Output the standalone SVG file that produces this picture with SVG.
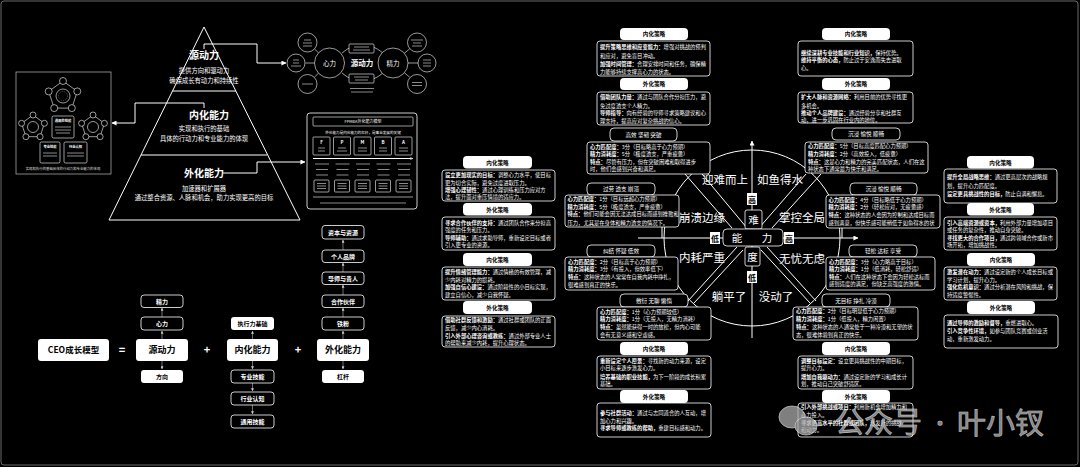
<svg xmlns="http://www.w3.org/2000/svg" width="1080" height="467" viewBox="0 0 1080 467">
<defs>
<style>
text{font-family:'Noto Sans CJK SC','Noto Sans',sans-serif}
.c{fill:#fff;font-size:5.3px}
.b{font-weight:700}
.tab{fill:#fff}
.tt{fill:#000;font-size:5.6px;font-weight:700;text-anchor:middle}
.st{fill:#000;stroke:#fff;stroke-width:.8}
.stt{fill:#fff;font-size:5.6px;text-anchor:middle}
.box{fill:#000;stroke:#fff;stroke-width:.8}
.ln{fill:none;stroke:#fff;stroke-width:1}
.thin{fill:#000;stroke:#fff;stroke-width:.6}
.tx{fill:none;stroke:#9a9a9a;stroke-width:.9}
.wb{fill:#fff}
.ob{fill:#000;stroke:#fff;stroke-width:.8}
.wt{fill:#000;font-weight:700;text-anchor:middle}
.ot{fill:#fff;font-weight:700;text-anchor:middle}
.py{fill:#fff;text-anchor:middle}
.lab{fill:#fff;font-size:11.5px;text-anchor:middle}
.gl{fill:none;stroke:#bbb;stroke-width:.6}
</style>
<marker id="ah" viewBox="0 0 6 6" refX="5.5" refY="3" markerWidth="5" markerHeight="5" markerUnits="userSpaceOnUse" orient="auto"><path d="M0,0L6,3L0,6z" fill="#fff"/></marker>
<marker id="sa" viewBox="0 0 6 6" refX="5.5" refY="3" markerWidth="3" markerHeight="3" markerUnits="userSpaceOnUse" orient="auto"><path d="M0,0L6,3L0,6z" fill="#ccc"/></marker>
</defs>
<rect width="1080" height="467" fill="#000"/>
<rect x="1" y="1" width="1077" height="464" rx="3" fill="none" stroke="#6a6a6a"/>

<!-- connectors -->
<g id="connectors">
<path class="ln" d="M204,49V44H257V63H286" marker-end="url(#ah)"/>
<path class="ln" d="M204,108V103H135V123H112" marker-end="url(#ah)"/>
<path class="ln" d="M223,173H257V162H305" marker-end="url(#ah)"/>
<path class="gl" d="M162,339V331" marker-end="url(#sa)"/>
<path class="gl" d="M162,317V308" marker-end="url(#sa)"/>
<path class="gl" d="M162,361V369" marker-end="url(#sa)"/>
<path class="gl" d="M252.5,339V331" marker-end="url(#sa)"/>
<path class="gl" d="M252.5,361V369" marker-end="url(#sa)"/>
<path class="gl" d="M252.5,383V391" marker-end="url(#sa)"/>
<path class="gl" d="M252.5,405V414" marker-end="url(#sa)"/>
<path class="gl" d="M343,339V331" marker-end="url(#sa)"/>
<path class="gl" d="M343,317V308" marker-end="url(#sa)"/>
<path class="gl" d="M343,295V285" marker-end="url(#sa)"/>
<path class="gl" d="M343,272V263" marker-end="url(#sa)"/>
<path class="gl" d="M343,250V240" marker-end="url(#sa)"/>
<path class="gl" d="M343,361V369" marker-end="url(#sa)"/>
<circle cx="752" cy="238" r="88" class="ln"/>
<path class="ln" d="M752,338V141" marker-end="url(#ah)"/>
<path class="ln" d="M638,238H858" marker-end="url(#ah)"/>
<path class="ln" d="M662,227V238M842,228V238"/>
<path class="ln" d="M685,174L732,228M702,174L747,228"/>
<path class="ln" d="M821,174L772,228M806,174L759,228"/>
<path class="ln" d="M737,247L688,301M743,250L694,303"/>
<path class="ln" d="M767,247L816,301M761,250L810,303"/>
</g>

<g id="pyramid">
<path class="ln" d="M204,27L109,220H300Z"/>
<path class="ln" d="M172.5,91H236M141,155H267"/>
<text class="py b" x="204" y="59" font-size="10">源动力</text>
<text class="py" x="204" y="72.5" font-size="6.3">提供方向和驱动力</text>
<text class="py" x="204" y="82.5" font-size="6.3">确保成长有动力和持续性</text>
<text class="py b" x="209" y="119" font-size="10">内化能力</text>
<text class="py" x="204" y="130.5" font-size="6.3">实现和执行的基础</text>
<text class="py" x="204" y="140.5" font-size="6.3">具体的行动力和专业能力的体现</text>
<text class="py b" x="204" y="177" font-size="10">外化能力</text>
<text class="py" x="204" y="190.5" font-size="6.3">加速器和扩展器</text>
<text class="py" x="204" y="200" font-size="6.3">通过整合资源、人脉和机会，助力实现更高的目标</text>
</g>

<g id="leftbox">
<rect x="16" y="72" width="95" height="102" fill="#000" stroke="#bbb" stroke-width=".7"/>
<path class="thin" d="M63,81L77.3,91.4L71.8,108.1L54.2,108.1L48.7,91.4Z"/>
<circle cx="63" cy="96" r="7" class="thin"/><circle cx="63" cy="96" r="4.5" fill="none" stroke="#999" stroke-width=".5" stroke-dasharray="1 1"/>
<circle cx="63" cy="81" r="3.5" class="thin"/><circle cx="77.3" cy="91.4" r="3.5" class="thin"/><circle cx="71.8" cy="108.1" r="3.5" class="thin"/><circle cx="54.2" cy="108.1" r="3.5" class="thin"/><circle cx="48.7" cy="91.4" r="3.5" class="thin"/>
<path class="thin" d="M33,115L44.4,123.3L40.1,136.7L25.9,136.7L21.6,123.3Z"/>
<circle cx="33" cy="127" r="5.5" class="thin"/>
<circle cx="33" cy="115" r="3" class="thin"/><circle cx="44.4" cy="123.3" r="3" class="thin"/><circle cx="40.1" cy="136.7" r="3" class="thin"/><circle cx="25.9" cy="136.7" r="3" class="thin"/><circle cx="21.6" cy="123.3" r="3" class="thin"/>
<path class="thin" d="M93,115L104.4,123.3L100.1,136.7L85.9,136.7L81.6,123.3Z"/>
<circle cx="93" cy="127" r="5.5" class="thin"/>
<circle cx="93" cy="115" r="3" class="thin"/><circle cx="104.4" cy="123.3" r="3" class="thin"/><circle cx="100.1" cy="136.7" r="3" class="thin"/><circle cx="85.9" cy="136.7" r="3" class="thin"/><circle cx="81.6" cy="123.3" r="3" class="thin"/>
<rect x="52" y="116" width="22" height="22" rx="1.5" class="thin"/>
<text x="63" y="122" fill="#fff" font-size="3.3" font-weight="700" text-anchor="middle">通用的技能</text>
<path class="tx" d="M55,127H71M55,130H71M56,133H70" stroke-width=".6"/>
<rect x="40" y="142" width="20" height="21" rx="1.5" class="thin"/>
<text x="50" y="148" fill="#fff" font-size="3.3" font-weight="700" text-anchor="middle">专业技能</text>
<path class="tx" d="M43,153H57M43,156H57" stroke-width=".6"/>
<rect x="64" y="142" width="23" height="21" rx="1.5" class="thin"/>
<text x="75.5" y="148" fill="#fff" font-size="3.3" font-weight="700" text-anchor="middle">行业认知</text>
<path class="tx" d="M67,153H84M67,156H84" stroke-width=".6"/>
<text x="63" y="170" fill="#ddd" font-size="3.4" text-anchor="middle">实现和执行的基础具体的行动力和专业能力的体现</text>
</g>

<g id="yuan">
<path class="thin" d="M342,53Q362,36 383,53M342,73Q362,90 383,73" style="fill:none"/>
<path class="thin" style="fill:none" d="M305.5,63H314.5M314.5,49L318.5,52.8M314.5,77L318.5,73.2M418,63H408M409.8,48.7L404.4,53.3M409.8,77.3L404.4,72.7"/>
<circle cx="329.5" cy="63" r="15" class="thin"/>
<circle cx="393" cy="63" r="15" class="thin"/>
<circle cx="307.5" cy="42.5" r="9.5" class="thin"/>
<circle cx="296" cy="63" r="9" class="thin"/>
<circle cx="307.5" cy="84" r="9.5" class="thin"/>
<circle cx="417" cy="42.5" r="9.5" class="thin"/>
<circle cx="427" cy="63" r="9" class="thin"/>
<circle cx="417" cy="84" r="9.5" class="thin"/>
<path class="tx" stroke-width=".6" d="M304,40H311M303,43H312M303,46H312M293,60H299M293,63H299M291,66H301M302,84H313M411,40H423M413,43H421M412,46H422M423,60H431M423,63H431M423,66H431M412,82.5H422M412,85.5H422"/>
<text x="329.5" y="65.5" fill="#fff" font-size="6.5" text-anchor="middle">心力</text>
<text x="393" y="65.5" fill="#fff" font-size="6.5" text-anchor="middle">精力</text>
<text x="362" y="66" fill="#fff" font-size="7.5" font-weight="700" text-anchor="middle">源动力</text>
<rect x="349" y="44" width="25" height="9" rx="1" class="thin"/>
<rect x="349" y="74" width="25" height="9" rx="1" class="thin"/>
<path class="tx" stroke-width=".6" d="M354,47H369M353,50H370M354,77H369M355,80H368M350,88.5H374M351,92H373"/>
</g>

<g id="pmba">
<rect x="307" y="113" width="110" height="96" rx="3" class="box"/>
<rect x="313" y="117" width="100" height="9" rx="1" class="thin"/>
<text x="363" y="123" fill="#fff" font-size="4" text-anchor="middle">FPMBA外化能力模型</text>
<text x="363" y="133.5" fill="#fff" font-size="3.6" text-anchor="middle">外化能力是内化能力的杠杆，是事业发展的关键</text>
<rect x="313" y="137" width="17" height="18" rx="1" class="thin"/>
<rect x="333.5" y="137" width="17" height="18" rx="1" class="thin"/>
<rect x="354" y="137" width="17" height="18" rx="1" class="thin"/>
<rect x="374.5" y="137" width="17" height="18" rx="1" class="thin"/>
<rect x="395" y="137" width="17" height="18" rx="1" class="thin"/>
<text y="143.5" fill="#fff" font-size="4.5" font-weight="700" text-anchor="middle"><tspan x="321.5">F</tspan><tspan x="342">P</tspan><tspan x="362.5">M</tspan><tspan x="383">B</tspan><tspan x="403.5">A</tspan></text>
<path class="tx" stroke-width=".5" d="M318,148H325M318,151H325M338,148H346M337,151H347M358,148H367M358,151H367M379,148H387M379,151H387M399,148H408M399,151H408"/>
<path class="ln" stroke-width=".7" d="M313,158.5H413" marker-end="url(#sa)"/>
<path class="tx" stroke-width=".6" d="M315,164H329M316,169.5H328M316,175H328M335.5,164H349.5M336.5,169.5H348.5M336.5,175H348.5M356,164H370M357,169.5H369M357,175H369M376.5,164H390.5M377.5,169.5H389.5M377.5,175H389.5M397,164H411M398,169.5H410M398,175H410"/>
<rect x="314" y="180" width="15" height="12" rx="1" class="thin"/>
<rect x="334.5" y="180" width="15" height="12" rx="1" class="thin"/>
<rect x="355" y="180" width="15" height="12" rx="1" class="thin"/>
<rect x="375.5" y="180" width="15" height="12" rx="1" class="thin"/>
<rect x="396" y="180" width="15" height="12" rx="1" class="thin"/>
<path class="tx" stroke-width=".5" d="M317,183.5H326M317,186H326M317,188.5H326M337.5,183.5H346.5M337.5,186H346.5M337.5,188.5H346.5M358,183.5H367M358,186H367M358,188.5H367M378.5,183.5H387.5M378.5,186H387.5M378.5,188.5H387.5M399,183.5H408M399,186H408M399,188.5H408"/>
<path class="thin" d="M313,197H413"/>
<path class="tx" stroke-width=".6" d="M320,203H406"/>
</g>

<g id="ceo-model">
<rect x="38" y="339" width="71" height="22" rx="3" class="wb"/>
<text x="73.5" y="353.3" class="wt" font-size="8.5">CEO成长模型</text>
<text x="122" y="354" fill="#fff" font-size="11" font-weight="700" text-anchor="middle">=</text>
<text x="207" y="354" fill="#fff" font-size="11" font-weight="700" text-anchor="middle">+</text>
<text x="298" y="354" fill="#fff" font-size="11" font-weight="700" text-anchor="middle">+</text>
</g>
<g id="node-yuandongli">
<rect x="136" y="339" width="52" height="22" rx="3" class="wb"/>
<text x="162" y="353.3" class="wt" font-size="9">源动力</text>
<rect x="141" y="295" width="42" height="12.5" rx="3" class="ob"/><text x="162" y="303.5" class="ot" font-size="6">精力</text>
<rect x="141" y="317" width="42" height="13" rx="3" class="ob"/><text x="162" y="325.8" class="ot" font-size="6">心力</text>
<rect x="141" y="370" width="42" height="13" rx="3" class="wb"/><text x="162" y="378.8" class="wt" font-size="6">方向</text>
</g>
<g id="node-neihua">
<rect x="227" y="339" width="51" height="22" rx="3" class="wb"/>
<text x="252.5" y="353.3" class="wt" font-size="9">内化能力</text>
<rect x="231" y="317" width="43" height="13" rx="3" class="wb"/><text x="252.5" y="325.8" class="wt" font-size="6">执行力基础</text>
<rect x="231" y="370" width="43" height="13" rx="3" class="ob"/><text x="252.5" y="378.8" class="ot" font-size="6">专业技能</text>
<rect x="231" y="392" width="43" height="13" rx="3" class="ob"/><text x="252.5" y="400.8" class="ot" font-size="6">行业认知</text>
<rect x="231" y="415" width="43" height="13" rx="3" class="ob"/><text x="252.5" y="423.8" class="ot" font-size="6">通用技能</text>
</g>
<g id="node-waihua">
<rect x="317" y="339" width="52" height="22" rx="3" class="wb"/>
<text x="343" y="353.3" class="wt" font-size="9">外化能力</text>
<rect x="322" y="225.5" width="42" height="13.5" rx="3" class="ob"/><text x="343" y="234.5" class="ot" font-size="6">资本与资源</text>
<rect x="322" y="250" width="42" height="12.5" rx="3" class="ob"/><text x="343" y="258.5" class="ot" font-size="6">个人品牌</text>
<rect x="322" y="272" width="42" height="12.5" rx="3" class="ob"/><text x="343" y="280.5" class="ot" font-size="6">导师与贵人</text>
<rect x="322" y="295" width="42" height="12.5" rx="3" class="ob"/><text x="343" y="303.5" class="ot" font-size="6">合作伙伴</text>
<rect x="322" y="317" width="42" height="13" rx="3" class="ob"/><text x="343" y="325.8" class="ot" font-size="6">铁粉</text>
<rect x="322" y="370" width="42" height="13" rx="3" class="wb"/><text x="343" y="378.8" class="wt" font-size="6">杠杆</text>
</g>

<!-- center wheel -->
<g id="wheel">
<text class="lab" x="725" y="184">迎难而上</text>
<text class="lab" x="780" y="184">如鱼得水</text>
<text class="lab" x="702" y="222">崩溃边缘</text>
<text class="lab" x="802" y="222">掌控全局</text>
<text class="lab" x="702" y="262">内耗严重</text>
<text class="lab" x="802" y="263">无忧无虑</text>
<text class="lab" x="729" y="301">躺平了</text>
<text class="lab" x="776" y="301">没动了</text>
<rect x="747" y="193" width="10" height="12" class="wb"/><text x="752" y="202.5" class="wt" font-size="8">高</text>
<rect x="745" y="210" width="17" height="19" rx="2" class="ob"/><text x="753.5" y="223.5" fill="#fff" font-size="10.5" text-anchor="middle">难</text>
<rect x="723" y="229" width="60" height="17" rx="4" class="ob"/>
<text x="737" y="241.5" fill="#fff" font-size="10.5" text-anchor="middle">能</text>
<text x="767" y="241.5" fill="#fff" font-size="10.5" text-anchor="middle">力</text>
<rect x="745" y="247" width="15" height="19" rx="2" class="ob"/><text x="752.5" y="260.5" fill="#fff" font-size="10.5" text-anchor="middle">度</text>
<rect x="747" y="271" width="10" height="12" class="wb"/><text x="752" y="280.5" class="wt" font-size="8">低</text>
<rect x="710" y="232" width="10" height="12" class="wb"/><text x="715" y="241.5" class="wt" font-size="8">低</text>
<rect x="784" y="232" width="10" height="12" class="wb"/><text x="789" y="241.5" class="wt" font-size="8">高</text>
</g>

<!-- column A -->
<g id="a1">
<rect x="463" y="156" width="69" height="12.5" rx="4" class="tab"/><text class="tt" x="497.5" y="164.5">内化策略</text>
<rect x="442" y="170" width="113" height="31" rx="3" class="box"/>
<text class="c" x="445" y="177"><tspan class="b">设立更加现实的目标：</tspan>调整心力水平，使目标</text>
<text class="c" x="445" y="184.5">更为切合实际，避免过度进取压力。</text>
<text class="c" x="445" y="192"><tspan class="b">增强心理韧性：</tspan>通过心理训练和压力应对方</text>
<text class="c" x="445" y="199.3">法，提升面对重压情境的适应力。</text>
</g>
<g id="a2">
<rect x="463" y="203" width="69" height="12.5" rx="4" class="tab"/><text class="tt" x="497.5" y="211.5">外化策略</text>
<rect x="442" y="217" width="113" height="33" rx="3" class="box"/>
<text class="c" x="445" y="224.5"><tspan class="b">寻求合作伙伴的支持：</tspan>通过团队合作来分担高</text>
<text class="c" x="445" y="232">强度的任务和压力。</text>
<text class="c" x="445" y="239.5"><tspan class="b">导师辅助：</tspan>通过求助导师，重新设定目标或者</text>
<text class="c" x="445" y="247">引入更专业的资源。</text>
</g>
<g id="a3">
<rect x="463" y="253" width="69" height="13" rx="4" class="tab"/><text class="tt" x="497.5" y="261.8">内化策略</text>
<rect x="442" y="267" width="113" height="33" rx="3" class="box"/>
<text class="c" x="445" y="274.3"><tspan class="b">提升情绪管理能力：</tspan>通过情绪的有效管理，减</text>
<text class="c" x="445" y="282">少内耗对精力的损耗。</text>
<text class="c" x="445" y="289.3"><tspan class="b">加强自信心建设：</tspan>通过阶段性的小目标实现，</text>
<text class="c" x="445" y="297">建立自信心，减少自我怀疑。</text>
</g>
<g id="a4">
<rect x="463" y="301" width="69" height="13" rx="4" class="tab"/><text class="tt" x="497.5" y="309.8">外化策略</text>
<rect x="442" y="316" width="113" height="31" rx="3" class="box"/>
<text class="c" x="445" y="322"><tspan class="b">借助社群反馈和激励：</tspan>通过社群或团队的正面</text>
<text class="c" x="445" y="330.2">反馈，减少内心消耗。</text>
<text class="c" x="445" y="338"><tspan class="b">引入外部心理咨询或教练：</tspan>通过外部专业人士</text>
<text class="c" x="445" y="345.2">的帮助来减少内耗，提升心理状态。</text>
</g>

<!-- column B -->
<g id="b1">
<rect x="620" y="28" width="68" height="12" rx="4" class="tab"/><text class="tt" x="654" y="36.2">内化策略</text>
<rect x="597" y="41" width="113" height="35" rx="3" class="box"/>
<text class="c" x="600" y="49"><tspan class="b">提升策略思维和应变能力：</tspan>增强对挑战的预判</text>
<text class="c" x="600" y="57.5">和应对，避免盲目冲动。</text>
<text class="c" x="600" y="66"><tspan class="b">加强时间管理：</tspan>合理安排时间和任务，确保精</text>
<text class="c" x="600" y="74">力能够持续支撑高心力的状态。</text>
</g>
<g id="b2">
<rect x="620" y="78" width="68" height="12" rx="4" class="tab"/><text class="tt" x="654" y="86.2">外化策略</text>
<rect x="597" y="92" width="113" height="33" rx="3" class="box"/>
<text class="c" x="600" y="99.3"><tspan class="b">借助团队力量：</tspan>通过与团队合作分担压力，避</text>
<text class="c" x="600" y="107.5">免过度透支个人精力。</text>
<text class="c" x="600" y="114.7"><tspan class="b">导师指导：</tspan>向有经验的导师寻求策略建议和心</text>
<text class="c" x="600" y="122.5">理支持，提高应对复杂挑战的信心。</text>
</g>
<g id="b3">
<rect x="610" y="128" width="67" height="13" rx="4" class="st"/><text class="stt" x="643.5" y="136.8">高效 坚韧 突破</text>
<rect x="587" y="142" width="123" height="32" rx="3" class="box"/>
<text class="c" x="590" y="148.7"><tspan class="b">心力匹配度：</tspan>3分（目标略高于心力预期）</text>
<text class="c" x="590" y="156"><tspan class="b">精力消耗度：</tspan>5分（极度透支，严重疲惫）</text>
<text class="c" x="590" y="163.7"><tspan class="b">特点：</tspan>尽管有压力，但在突破困难和取得进步</text>
<text class="c" x="590" y="171.3">时，他们会感到兴奋和满足。</text>
</g>
<g id="b4">
<rect x="587" y="183" width="68" height="12" rx="4" class="st"/><text class="stt" x="621" y="191.3">过劳 透支 崩溃</text>
<rect x="565" y="195" width="114" height="32" rx="3" class="box"/>
<text class="c" x="567.5" y="201.3"><tspan class="b">心力匹配度：</tspan>1分（目标远超心力预期）</text>
<text class="c" x="567.5" y="208.7"><tspan class="b">精力消耗度：</tspan>5分（极度透支，严重疲惫）</text>
<text class="c" x="567.5" y="216"><tspan class="b">特点：</tspan>他们可能会因无法达成目标而感到挫败和</text>
<text class="c" x="567.5" y="224.5">压力，尤其是在身体和精力透支的情况下。</text>
</g>
<g id="b5">
<rect x="587" y="245" width="68" height="12" rx="4" class="st"/><text class="stt" x="621" y="253.3">纠结 怀疑 低效</text>
<rect x="565" y="257" width="113" height="33" rx="3" class="box"/>
<text class="c" x="568" y="263.7"><tspan class="b">心力匹配度：</tspan>2分（目标高于心力预期）</text>
<text class="c" x="568" y="271.3"><tspan class="b">精力消耗度：</tspan>3分（有投入，但效率低下）</text>
<text class="c" x="568" y="278.7"><tspan class="b">特点：</tspan>这种状态的人常常在自我内耗中挣扎，</text>
<text class="c" x="568" y="287">很难感到真正的快乐。</text>
</g>
<g id="b6">
<rect x="620" y="294" width="68" height="13" rx="4" class="st"/><text class="stt" x="654" y="302.8">敷衍 无聊 懒惰</text>
<rect x="597" y="307" width="114" height="33" rx="3" class="box"/>
<text class="c" x="600" y="313.7"><tspan class="b">心力匹配度：</tspan>1分（心力预期较低）</text>
<text class="c" x="600" y="321.3"><tspan class="b">精力消耗度：</tspan>1分（无投入，无精力消耗）</text>
<text class="c" x="600" y="329.3"><tspan class="b">特点：</tspan>虽然能获得一时的放松，但内心可能</text>
<text class="c" x="600" y="337">会有无意义感和空虚感。</text>
</g>
<g id="b7">
<rect x="620" y="342" width="68" height="13" rx="4" class="tab"/><text class="tt" x="654" y="350.8">内化策略</text>
<rect x="597" y="356" width="114" height="33" rx="3" class="box"/>
<text class="c" x="600" y="362.7"><tspan class="b">重新设定个人愿景：</tspan>寻找新的动力来源，设定</text>
<text class="c" x="600" y="370.3">小目标来逐步激发心力。</text>
<text class="c" x="600" y="378.7"><tspan class="b">培养基础的职业技能，</tspan>为下一阶段的成长积累</text>
<text class="c" x="600" y="386">基础。</text>
</g>
<g id="b8">
<rect x="620" y="390" width="68" height="13" rx="4" class="tab"/><text class="tt" x="654" y="398.8">外化策略</text>
<rect x="597" y="403" width="114" height="34" rx="3" class="box"/>
<text class="c" x="600" y="414.7"><tspan class="b">参与社群活动：</tspan>通过与志同道合的人互动，增</text>
<text class="c" x="600" y="422.7">加心力和兴趣。</text>
<text class="c" x="600" y="430.3"><tspan class="b">寻求导师或教练的帮助，</tspan>重建目标感和动力。</text>
</g>

<!-- column C -->
<g id="c1">
<rect x="822" y="28" width="68" height="12" rx="4" class="tab"/><text class="tt" x="856" y="36.2">内化策略</text>
<rect x="798" y="41" width="115" height="35" rx="3" class="box"/>
<text class="c" x="801" y="55"><tspan class="b">继续深耕专业技能和行业知识，</tspan>保持优势。</text>
<text class="c" x="801" y="62.3"><tspan class="b">维持平衡的心态，</tspan>防止过于安逸而失去进取</text>
<text class="c" x="801" y="70">心。</text>
</g>
<g id="c2">
<rect x="822" y="78" width="68" height="12" rx="4" class="tab"/><text class="tt" x="856" y="86.2">外化策略</text>
<rect x="798" y="92" width="115" height="31" rx="3" class="box"/>
<text class="c" x="801" y="99.3"><tspan class="b">扩大人脉和资源网络：</tspan>利用目前的优势寻找更</text>
<text class="c" x="801" y="107.5">多机会。</text>
<text class="c" x="801" y="114.7"><tspan class="b">推动个人品牌建设：</tspan>通过经验分享和社群互</text>
<text class="c" x="801" y="122">动，进一步巩固在行业内的地位。</text>
</g>
<g id="c3">
<rect x="832" y="128" width="68" height="12" rx="4" class="st"/><text class="stt" x="866" y="136.3">沉浸 愉悦 顺畅</text>
<rect x="805" y="142" width="123" height="31" rx="3" class="box"/>
<text class="c" x="808" y="148"><tspan class="b">心力匹配度：</tspan>5分（目标高度匹配心力预期）</text>
<text class="c" x="808" y="156"><tspan class="b">精力消耗度：</tspan>2分（高效投入，低疲惫）</text>
<text class="c" x="808" y="163.7"><tspan class="b">特点：</tspan>这是心力和精力的完美匹配状态，人们在这</text>
<text class="c" x="808" y="171.2">种状态下通常最为快乐和满足。</text>
</g>
<g id="c4">
<rect x="850" y="183" width="67" height="12" rx="4" class="st"/><text class="stt" x="883.5" y="191.3">沉浸 愉悦 顺畅</text>
<rect x="826" y="195" width="114" height="33" rx="3" class="box"/>
<text class="c" x="828.5" y="201.5"><tspan class="b">心力匹配度：</tspan>4分（目标略低于心力预期）</text>
<text class="c" x="828.5" y="209"><tspan class="b">精力消耗度：</tspan>2分（轻松应对，无疲惫感）</text>
<text class="c" x="828.5" y="216.5"><tspan class="b">特点：</tspan>这种状态的人会因为控制和达成目标而</text>
<text class="c" x="828.5" y="224.5">感到满意，但快乐感可能稍低于如鱼得水的状</text>
</g>
<g id="c5">
<rect x="849" y="245" width="68" height="12" rx="4" class="st"/><text class="stt" x="883" y="253.3">轻松 达标 享受</text>
<rect x="826" y="257" width="109" height="33" rx="3" class="box"/>
<text class="c" x="829" y="263.7"><tspan class="b">心力匹配度：</tspan>3分（心力略高于目标）</text>
<text class="c" x="829" y="271.3"><tspan class="b">精力消耗度：</tspan>1分（低消耗，轻松舒适）</text>
<text class="c" x="829" y="278.7"><tspan class="b">特点：</tspan>人们在这种状态下会因为轻松达标而</text>
<text class="c" x="829" y="286.3">感到适度的满足，但缺乏高强度的激情。</text>
</g>
<g id="c6">
<rect x="822" y="294" width="68" height="13" rx="4" class="st"/><text class="stt" x="856" y="302.8">无目标 挣扎 冷漠</text>
<rect x="793" y="307" width="125" height="33" rx="3" class="box"/>
<text class="c" x="796" y="313"><tspan class="b">心力匹配度：</tspan>2分（目标明显低于心力预期）</text>
<text class="c" x="796" y="321.3"><tspan class="b">精力消耗度：</tspan>1分（低投入，精力闲置）</text>
<text class="c" x="796" y="329.3"><tspan class="b">特点：</tspan>这种状态的人通常处于一种冷漠和无望的状</text>
<text class="c" x="796" y="337">态，很难体验到真正的快乐。</text>
</g>
<g id="c7">
<rect x="822" y="342" width="68" height="13" rx="4" class="tab"/><text class="tt" x="856" y="350.8">内化策略</text>
<rect x="798" y="356" width="115" height="33" rx="3" class="box"/>
<text class="c" x="801" y="362.7"><tspan class="b">调整目标设定：</tspan>设立更具挑战性的中期目标，</text>
<text class="c" x="801" y="369.7">提升心力。</text>
<text class="c" x="801" y="378.7"><tspan class="b">增加自我驱动力：</tspan>通过设定新的学习和成长计</text>
<text class="c" x="801" y="386">划，推动自己突破舒适区。</text>
</g>
<g id="c8">
<rect x="822" y="390" width="68" height="13" rx="4" class="tab"/><text class="tt" x="856" y="398.8">外化策略</text>
<rect x="798" y="403" width="115" height="34" rx="3" class="box"/>
<text class="c" x="801" y="408.7"><tspan class="b">引入外部挑战或项目：</tspan>利用新机会增加精力和</text>
<text class="c" x="801" y="417">心力投入。</text>
<text class="c" x="801" y="424.7"><tspan class="b">寻求更高水平的社群或团队，</tspan>激发新的挑战</text>
<text class="c" x="801" y="432">和动力。</text>
</g>

<!-- column D -->
<g id="d1">
<rect x="967" y="156" width="67" height="12.5" rx="4" class="tab"/><text class="tt" x="1000.5" y="164.5">内化策略</text>
<rect x="944" y="169" width="113" height="34" rx="3" class="box"/>
<text class="c" x="947" y="178.7"><tspan class="b">提升全局战略思维：</tspan>通过更高层次的战略规</text>
<text class="c" x="947" y="187.7">划，提升心力匹配度。</text>
<text class="c" x="947" y="196"><tspan class="b">设定更具挑战性的目标，</tspan>防止自满和懈怠。</text>
</g>
<g id="d2">
<rect x="967" y="203" width="67" height="12.5" rx="4" class="tab"/><text class="tt" x="1000.5" y="211.5">外化策略</text>
<rect x="944" y="217" width="113" height="33" rx="3" class="box"/>
<text class="c" x="947" y="224.5"><tspan class="b">引入高端资源或资本，</tspan>利用外部力量增加项目</text>
<text class="c" x="947" y="232">或任务的复杂性，推动自身突破。</text>
<text class="c" x="947" y="239.5"><tspan class="b">寻找更大的合作项目，</tspan>通过跨领域合作或新市</text>
<text class="c" x="947" y="247">场开拓，增加挑战性。</text>
</g>
<g id="d3">
<rect x="967" y="253" width="68" height="13" rx="4" class="tab"/><text class="tt" x="1001" y="261.8">内化策略</text>
<rect x="944" y="267" width="113" height="33" rx="3" class="box"/>
<text class="c" x="947" y="274.3"><tspan class="b">激发潜在动力：</tspan>通过设定新的个人成长目标或</text>
<text class="c" x="947" y="282">学习计划，提升心力。</text>
<text class="c" x="947" y="289.3"><tspan class="b">强化危机意识：</tspan>通过分析潜在风险和挑战，保</text>
<text class="c" x="947" y="297">持适度警惕性。</text>
</g>
<g id="d4">
<rect x="967" y="301" width="68" height="13" rx="4" class="tab"/><text class="tt" x="1001" y="309.8">外化策略</text>
<rect x="944" y="315" width="114" height="33" rx="3" class="box"/>
<text class="c" x="947" y="325.3"><tspan class="b">通过导师的激励和督导，</tspan>重燃进取心。</text>
<text class="c" x="947" y="333"><tspan class="b">引入竞争性环境，</tspan>如参与团队竞赛或创业活</text>
<text class="c" x="947" y="341">动，重新激发动力。</text>
</g>

<!-- watermark -->
<g id="watermark" opacity=".75">
<ellipse cx="792" cy="417" rx="13" ry="11" fill="#aaa" stroke="#fff" stroke-width=".8"/>
<ellipse cx="806" cy="426" rx="11" ry="9" fill="#aaa" stroke="#fff" stroke-width=".8"/>
<text x="835" y="433" font-size="29" fill="#aaa" stroke="#fff" stroke-width=".6">公众号</text>
<text x="940" y="431" font-size="20" fill="#aaa" stroke="#fff" stroke-width=".6" text-anchor="middle">·</text>
<text x="957" y="434" font-size="29" fill="#aaa" stroke="#fff" stroke-width=".6">叶小钗</text>
</g>
</svg>
